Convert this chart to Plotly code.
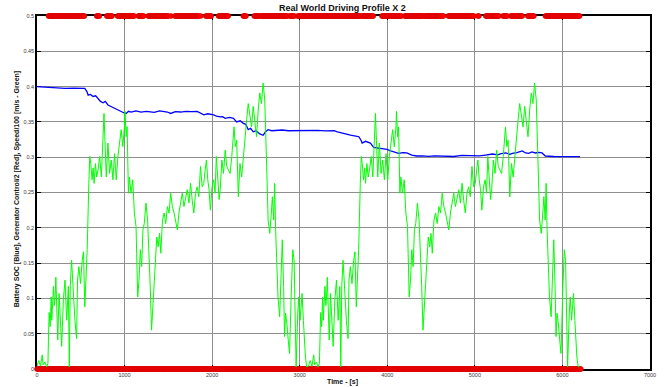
import plotly.graph_objects as go

# ---------------------------------------------------------------------------
# Drive cycle (one pass); the profile is driven twice back to back
# ---------------------------------------------------------------------------
CYCLE_LENGTH = 3100  # s

cycle_time = [
    0, 20, 40, 60, 70, 90, 110, 125, 131, 139, 150, 162, 169, 188, 198, 207,
    215, 226, 237, 252, 264, 282, 301, 320, 339, 358, 369, 380, 395, 414, 433,
    452, 463, 478, 497, 516, 531, 546, 558, 573, 592, 603, 614, 629, 641, 652,
    667, 682, 697, 716, 735, 754, 765, 780, 791, 810, 829, 848, 867, 886, 905,
    924, 942, 961, 980, 999, 1005, 1012, 1018, 1029, 1044, 1055, 1074, 1093,
    1112, 1131, 1150, 1165, 1180, 1195, 1210, 1225, 1244, 1263, 1278, 1293,
    1308, 1323, 1338, 1353, 1368, 1384, 1399, 1414, 1433, 1452, 1470, 1489,
    1508, 1527, 1546, 1565, 1584, 1603, 1621, 1640, 1659, 1678, 1697, 1716,
    1735, 1754, 1772, 1791, 1810, 1829, 1848, 1867, 1886, 1905, 1920, 1935,
    1950, 1965, 1980, 1999, 2018, 2033, 2048, 2067, 2080, 2092, 2111, 2130,
    2149, 2167, 2186, 2205, 2224, 2250, 2265, 2280, 2299, 2318, 2337, 2356,
    2375, 2394, 2412, 2431, 2450, 2469, 2488, 2507, 2526, 2544, 2563, 2582,
    2601, 2612, 2627, 2639, 2658, 2676, 2688, 2703, 2714, 2725, 2737, 2752,
    2771, 2786, 2801, 2816, 2827, 2838, 2853, 2869, 2884, 2902, 2921, 2936,
    2948, 2959, 2978, 2989, 3004, 3016, 3027, 3042, 3053, 3065, 3080, 3095,
]
cycle_speed = [  # speed / 100  [m/s]
    0.004, 0.012, 0.004, 0.020, 0.006, 0.010, 0.003, 0.008, 0.045, 0.080,
    0.060, 0.102, 0.069, 0.117, 0.090, 0.102, 0.130, 0.088, 0.041, 0.107,
    0.079, 0.032, 0.098, 0.126, 0.069, 0.117, 0.003, 0.117, 0.154, 0.107,
    0.069, 0.043, 0.126, 0.145, 0.121, 0.154, 0.166, 0.088, 0.126, 0.169,
    0.263, 0.301, 0.291, 0.268, 0.285, 0.263, 0.291, 0.272, 0.282, 0.301,
    0.272, 0.324, 0.362, 0.310, 0.272, 0.320, 0.277, 0.296, 0.268, 0.305,
    0.268, 0.301, 0.324, 0.339, 0.315, 0.343, 0.365, 0.349, 0.329, 0.343,
    0.249, 0.272, 0.249, 0.268, 0.221, 0.202, 0.102, 0.126, 0.169, 0.145,
    0.197, 0.206, 0.235, 0.211, 0.173, 0.117, 0.055, 0.088, 0.107, 0.145,
    0.187, 0.173, 0.192, 0.164, 0.211, 0.221, 0.206, 0.230, 0.221, 0.249,
    0.230, 0.221, 0.211, 0.197, 0.221, 0.235, 0.249, 0.230, 0.244, 0.254,
    0.235, 0.263, 0.239, 0.221, 0.249, 0.258, 0.244, 0.287, 0.258, 0.263,
    0.282, 0.296, 0.268, 0.254, 0.225, 0.258, 0.268, 0.249, 0.301, 0.258,
    0.240, 0.254, 0.296, 0.277, 0.310, 0.287, 0.282, 0.277, 0.301, 0.343,
    0.315, 0.324, 0.244, 0.291, 0.272, 0.301, 0.334, 0.353, 0.376, 0.357,
    0.343, 0.372, 0.353, 0.329, 0.367, 0.391, 0.376, 0.405, 0.381, 0.343,
    0.268, 0.211, 0.192, 0.221, 0.244, 0.211, 0.263, 0.197, 0.145, 0.102,
    0.074, 0.126, 0.183, 0.117, 0.046, 0.079, 0.065, 0.041, 0.022, 0.102,
    0.169, 0.154, 0.079, 0.003, 0.079, 0.102, 0.069, 0.088, 0.107, 0.069,
    0.041, 0.017, 0.003, 0.004,
]

speed_time = cycle_time + [t + CYCLE_LENGTH for t in cycle_time]
speed = cycle_speed + cycle_speed

# ---------------------------------------------------------------------------
# Battery state of charge
# ---------------------------------------------------------------------------
soc_time = [
    0, 100, 200, 250, 320, 420, 546, 570, 584, 610, 641, 670, 697, 725, 754,
    780, 810, 840, 886, 920, 961, 990, 1018, 1045, 1074, 1130, 1187, 1250,
    1338, 1400, 1489, 1527, 1580, 1640, 1700, 1760, 1829, 1870, 1905, 1950,
    2018, 2050, 2092, 2120, 2149, 2200, 2243, 2280, 2320, 2356, 2385, 2412,
    2440, 2469, 2500, 2544, 2582, 2610, 2639, 2680, 2733, 2800, 2870, 2997,
    3100, 3200, 3300, 3393, 3430, 3468, 3520, 3581, 3640, 3675, 3700, 3713,
    3751, 3780, 3807, 3845, 3902, 3950, 3996, 4040, 4072, 4128, 4180, 4222,
    4280, 4335, 4400, 4470, 4540, 4599, 4680, 4760, 4850, 4976, 5050, 5120,
    5202, 5260, 5300, 5353, 5400, 5428, 5480, 5541, 5580, 5616, 5650, 5692,
    5730, 5767, 5805, 5900, 6000, 6107, 6200,
]
soc = [
    0.400, 0.399, 0.398, 0.3985, 0.3975, 0.3978, 0.3975, 0.393, 0.388, 0.389,
    0.386, 0.387, 0.383, 0.379, 0.377, 0.379, 0.374, 0.372, 0.369, 0.367,
    0.3645, 0.363, 0.362, 0.365, 0.364, 0.3655, 0.364, 0.365, 0.3635, 0.3655,
    0.364, 0.362, 0.3645, 0.364, 0.365, 0.3645, 0.365, 0.362, 0.360, 0.3615,
    0.360, 0.358, 0.357, 0.3575, 0.355, 0.3565, 0.355, 0.350, 0.3515, 0.348,
    0.3465, 0.339, 0.341, 0.336, 0.3375, 0.333, 0.331, 0.336, 0.339, 0.3375,
    0.338, 0.3385, 0.3375, 0.338, 0.3376, 0.338, 0.3374, 0.3376, 0.336,
    0.3347, 0.333, 0.3314, 0.330, 0.329, 0.324, 0.320, 0.3225, 0.321, 0.320,
    0.314, 0.313, 0.312, 0.311, 0.309, 0.308, 0.3055, 0.3065, 0.306, 0.303,
    0.3017, 0.302, 0.3012, 0.302, 0.3017, 0.3022, 0.301, 0.3025, 0.302,
    0.3018, 0.303, 0.3045, 0.3032, 0.305, 0.306, 0.304, 0.3055, 0.3065,
    0.309, 0.306, 0.3055, 0.3075, 0.306, 0.3068, 0.306, 0.3017, 0.301,
    0.3012, 0.3007, 0.3007,
]

# ---------------------------------------------------------------------------
# Generator control (plotted as control/2: 0.5 = on, 0 = off)
# ---------------------------------------------------------------------------
gen_on_start = [
    131, 682, 797, 920, 1157, 1270, 1530, 1575, 1869, 1926, 1940, 2073, 2356,
    2480, 2560, 2888, 2978, 3720, 3939, 4199, 4430, 4697, 5036, 5125, 5321,
    5411, 5604, 5806,
]
gen_on_end = [
    546, 716, 865, 1112, 1225, 1508, 1532, 1847, 1871, 1928, 1996, 2186, 2390,
    2548, 2866, 2945, 3700, 3849, 4165, 4414, 4640, 4991, 5050, 5276, 5378,
    5547, 5683, 6202,
]
GEN_SAMPLE = 10     # s between logged generator samples
GEN_END = 6215      # s, last logged generator sample

gen_time, gen_value = [], []
for t in range(0, GEN_END + 1, GEN_SAMPLE):
    gen_time.append(t)
    gen_value.append(0.0)
for start, end in zip(gen_on_start, gen_on_end):
    for t in range(start, end + 1, GEN_SAMPLE):
        gen_time.append(t)
        gen_value.append(0.5)

# Axis ticks
x_ticks = [0, 1000, 2000, 3000, 4000, 5000, 6000, 7000]
y_ticks = [0, 0.05, 0.1, 0.15, 0.2, 0.25, 0.3, 0.35, 0.4, 0.45, 0.5]
y_tick_text = ["0", "0.05", "0.1", "0.15", "0.2", "0.25", "0.3", "0.35",
               "0.4", "0.45", "0.5"]

FONT = "Arial, 'Liberation Sans', Helvetica, sans-serif"

fig = go.Figure()

fig.add_trace(go.Scatter(
    x=gen_time, y=gen_value, mode="markers", cliponaxis=False,
    marker=dict(symbol="circle", size=5, color="#ff0000",
                line=dict(color="#d00000", width=0.6)),
    name="Generator Control/2",
))
fig.add_trace(go.Scatter(
    x=soc_time, y=soc, mode="lines",
    line=dict(color="#0000ff", width=1.3),
    name="Battery SOC",
))
fig.add_trace(go.Scatter(
    x=speed_time, y=speed, mode="lines",
    line=dict(color="#00ff00", width=1),
    name="Speed/100",
))

axis_common = dict(
    showgrid=True, gridcolor="#8f8f8f", gridwidth=1,
    showline=True, linecolor="black", linewidth=1.6, mirror="ticks",
    ticks="inside", ticklen=4, tickcolor="black", tickwidth=1,
    zeroline=False, layer="below traces",
    tickfont=dict(family=FONT, size=5.5, color="#3a3a3a"),
)

fig.update_xaxes(range=[0, 7000], tickvals=x_ticks,
                 ticktext=[str(v) for v in x_ticks], **axis_common)
fig.update_yaxes(range=[0, 0.5], tickvals=y_ticks, ticktext=y_tick_text,
                 **axis_common)

fig.update_layout(
    width=665, height=387,
    margin=dict(l=37, r=9, t=16, b=18, pad=0),
    paper_bgcolor="white", plot_bgcolor="white",
    showlegend=False,
    font=dict(family=FONT, color="black"),
    annotations=[
        dict(text="<b>Real World Driving Profile X 2</b>",
             xref="paper", yref="paper", x=0.4976, y=1.0227,
             xanchor="center", yanchor="middle", showarrow=False,
             font=dict(family=FONT, size=9, color="#111")),
        dict(text="<b>Time - [s]</b>",
             xref="paper", yref="paper", x=0.4976, y=-0.036,
             xanchor="center", yanchor="middle", showarrow=False,
             font=dict(family=FONT, size=7, color="#111")),
        dict(text="<b>Battery SOC [Blue], Generator Control/2 [Red], "
                  "Speed/100 [m/s - Green]</b>",
             xref="paper", yref="paper", x=-0.032, y=0.51,
             xanchor="center", yanchor="middle", showarrow=False,
             textangle=-90,
             font=dict(family=FONT, size=7, color="#111")),
    ],
)

fig.write_html("out.html", config={"displayModeBar": False})
